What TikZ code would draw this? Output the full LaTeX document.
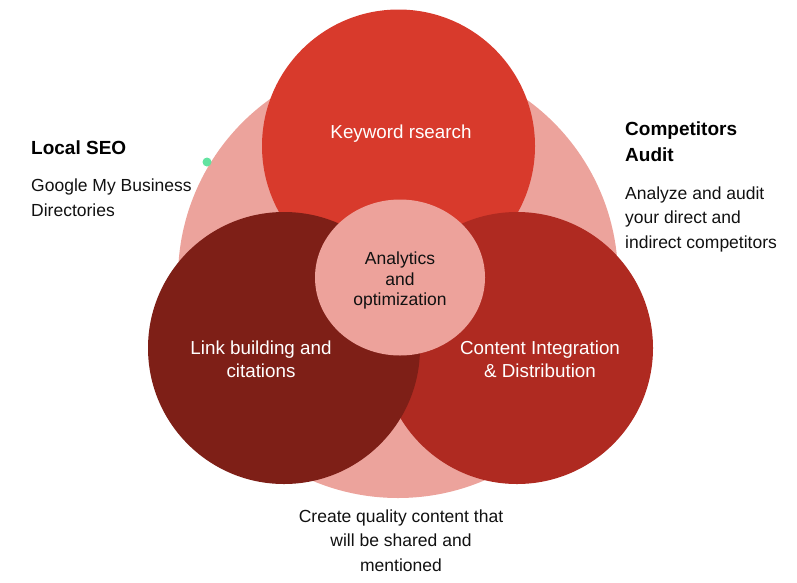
\documentclass[tikz,border=0pt]{standalone}
\usepackage{fontspec}
\setmainfont{Liberation Sans}
\definecolor{cpink}{HTML}{ECA39C}
\definecolor{ctop}{HTML}{D83A2C}
\definecolor{cright}{HTML}{AF2A21}
\definecolor{cleft}{HTML}{7E1F17}
\definecolor{ccenter}{HTML}{EDA29B}
\definecolor{cgreen}{HTML}{63E3A1}
\definecolor{ctext}{HTML}{111111}
\tikzset{
  circlab/.style={text=white, align=center, inner sep=0pt, font=\fontsize{18.8}{23}\selectfont},
  centerlab/.style={text=ctext, align=center, inner sep=0pt, font=\fontsize{17.5}{20.5}\selectfont},
  headlab/.style={text=black, align=left, anchor=west, inner sep=0pt, font=\bfseries\fontsize{19}{26}\selectfont},
  bodylab/.style={text=ctext, align=left, anchor=west, inner sep=0pt, font=\fontsize{17.5}{24.5}\selectfont},
}
\begin{document}
\begin{tikzpicture}[x=1pt,y=-1pt]
\useasboundingbox (0,0) rectangle (797,582);
% circles
\fill[cpink] (398,278) circle (220);
\fill[ctop] (398.5,146) circle (136.5);
\fill[cright] (517,348) circle (136);
\fill[cleft] (284,348) circle (136);
\fill[ccenter] (400,277.5) ellipse (85 and 78);
\fill[cgreen] (207,162) circle (4.5);
% labels
\node[circlab] (kw) at (401,133.5) {Keyword rsearch};
\node[circlab] (link) at (261,359.5) {Link building and\\citations};
\node[circlab] (content) at (540,359.5) {Content Integration\\\& Distribution};
\node[centerlab] (an) at (400,280.5) {Analytics\\and\\optimization};
\node[headlab] (local) at (31,147.5) {Local SEO};
\node[bodylab] (gmb) at (31,197.5) {Google My Business\\Directories};
\node[headlab] (comp) at (625,142) {Competitors\\Audit};
\node[bodylab] (ana) at (625,219) {Analyze and audit\\your direct and\\indirect competitors};
\node[bodylab, align=center, anchor=center] (create) at (401,540.5) {Create quality content that\\will be shared and\\mentioned};
\end{tikzpicture}
\end{document}
